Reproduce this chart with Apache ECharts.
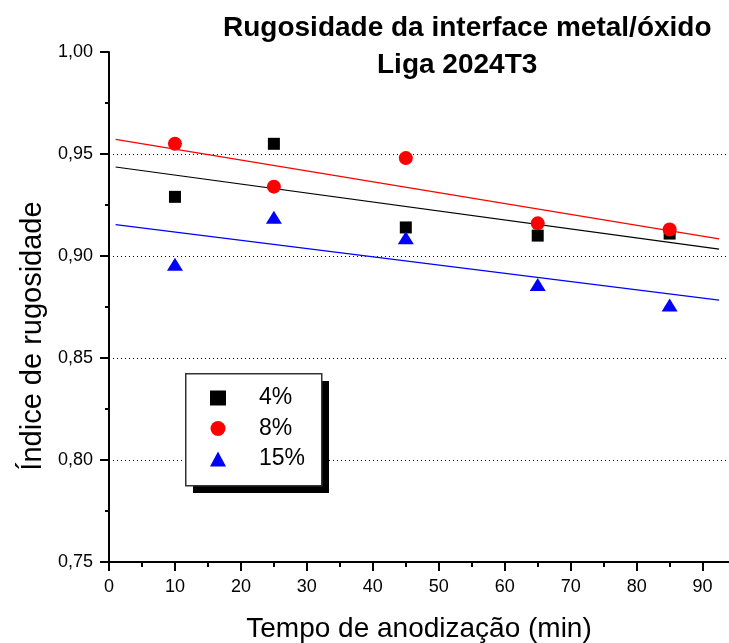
<!DOCTYPE html>
<html>
<head>
<meta charset="utf-8">
<script src="https://cdn.jsdelivr.net/npm/echarts@6/dist/echarts.min.js"></script>
<style>
  html, body { margin: 0; padding: 0; background: #fff; }
  #chart { width: 729px; height: 643px; }
</style>
</head>
<body>
<div id="chart"></div>
<script>
// Anodizing time (min) for every sample
const tempos = [10, 25, 45, 65, 85];
// Roughness index per electrolyte concentration
const rug4 = [0.929, 0.955, 0.914, 0.910, 0.911];
const rug8 = [0.955, 0.934, 0.948, 0.916, 0.913];
const rug15 = [0.896, 0.919, 0.909, 0.886, 0.876];
const series_nomes = ['4%', '8%', '15%'];
// Labelled (major) and unlabelled (minor) ticks of the time axis
const xTicks = [0, 10, 20, 30, 40, 50, 60, 70, 80, 90];
const xMinorTicks = [5, 15, 25, 35, 45, 55, 65, 75, 85];
// Time span covered by the fitted straight lines
const ajusteFaixa = [1, 92.5];

const FONT = 'Liberation Sans, Arial, Helvetica, sans-serif';

// Least-squares straight line through the points of one series
function ajusteLinear(xs, ys) {
  const n = xs.length;
  const mx = xs.reduce((a, b) => a + b, 0) / n;
  const my = ys.reduce((a, b) => a + b, 0) / n;
  let sxy = 0, sxx = 0;
  for (let i = 0; i < n; i++) {
    sxy += (xs[i] - mx) * (ys[i] - my);
    sxx += (xs[i] - mx) * (xs[i] - mx);
  }
  const b = sxy / sxx;
  const a = my - b * mx;
  return ajusteFaixa.map(x => [x, a + b * x]);
}

const pares = ys => tempos.map((t, i) => [t, ys[i]]);

const cores = ['#000000', '#ff0000', '#0000ff'];
const dados = [rug4, rug8, rug15];

const chart = echarts.init(document.getElementById('chart'), null, { renderer: 'canvas' });

const linhas = dados.map((ys, i) => ({
  name: 'ajuste ' + series_nomes[i],
  type: 'line',
  data: ajusteLinear(tempos, ys),
  showSymbol: false,
  symbol: 'none',
  silent: true,
  lineStyle: { color: cores[i], width: 1.2 },
  z: 2
}));

const pontos = [
  { name: series_nomes[0], type: 'scatter', data: pares(rug4), symbol: 'rect', symbolSize: 12,
    itemStyle: { color: cores[0], opacity: 1 }, z: 3 },
  { name: series_nomes[1], type: 'scatter', data: pares(rug8), symbol: 'circle', symbolSize: 14,
    itemStyle: { color: cores[1], opacity: 1 }, z: 4 },
  { name: series_nomes[2], type: 'scatter', data: pares(rug15), symbol: 'triangle', symbolSize: [16, 13],
    itemStyle: { color: cores[2], opacity: 1 }, z: 5 }
];

const X_MAX = 94;

const option = {
  backgroundColor: '#ffffff',
  animation: false,
  textStyle: { fontFamily: FONT },
  title: [
    { text: 'Rugosidade da interface metal/óxido', left: 218, top: 9,
      textStyle: { fontFamily: FONT, fontSize: 28, fontWeight: 'bold', color: '#000' } },
    { text: 'Liga 2024T3', left: 372, top: 46,
      textStyle: { fontFamily: FONT, fontSize: 28, fontWeight: 'bold', color: '#000' } }
  ],
  grid: { left: 109, right: 0, top: 52, bottom: 81, containLabel: false, outerBoundsMode: 'none' },
  xAxis: [
    {
      type: 'value',
      min: 0, max: X_MAX, interval: 10,
      name: 'Tempo de anodização (min)',
      nameLocation: 'middle',
      nameGap: 53,
      nameTextStyle: { fontFamily: FONT, fontSize: 28, color: '#000' },
      axisLine: { show: true, onZero: false, lineStyle: { color: '#000', width: 2 } },
      axisTick: { show: true, inside: false, length: 9, customValues: xTicks,
        lineStyle: { color: '#000', width: 2 } },
      axisLabel: { fontFamily: FONT, fontSize: 18, color: '#000', margin: 16,
        customValues: xTicks },
      splitLine: { show: false }
    },
    {
      // unlabelled half-step ticks on the same baseline
      type: 'value',
      min: 0, max: X_MAX,
      position: 'bottom',
      axisLine: { show: false, onZero: false },
      axisTick: { show: true, inside: false, length: 5, customValues: xMinorTicks,
        lineStyle: { color: '#000', width: 2 } },
      axisLabel: { show: false },
      splitLine: { show: false }
    }
  ],
  yAxis: {
    type: 'value',
    min: 0.75, max: 1.0, interval: 0.05,
    name: 'Índice de rugosidade',
    nameLocation: 'middle',
    nameGap: 62,
    nameTextStyle: { fontFamily: FONT, fontSize: 29, color: '#000', padding: [0, 58, 0, 0] },
    axisLine: { show: true, onZero: false, lineStyle: { color: '#000', width: 2 } },
    axisTick: { show: true, inside: false, length: 9, lineStyle: { color: '#000', width: 2 } },
    minorTick: { show: true, splitNumber: 2, length: 4, lineStyle: { color: '#000', width: 2 } },
    axisLabel: { fontFamily: FONT, fontSize: 18, color: '#000', margin: 16,
      formatter: v => v.toFixed(2).replace('.', ',') },
    splitLine: { show: true, showMinLine: false, showMaxLine: false,
      lineStyle: { color: '#000', width: 1, type: [1, 3] } }
  },
  legend: {
    orient: 'vertical',
    left: 205, top: 378,
    itemWidth: 16, itemHeight: 15,
    itemGap: 0.5,
    selectedMode: false,
    z: 20,
    textStyle: { fontFamily: FONT, fontSize: 23, color: '#000', lineHeight: 30, padding: [0, 0, 0, 28] },
    data: [
      { name: series_nomes[0], icon: 'rect', itemStyle: { color: cores[0], opacity: 1 } },
      { name: series_nomes[1], icon: 'circle', itemStyle: { color: cores[1], opacity: 1 } },
      { name: series_nomes[2], icon: 'triangle', itemStyle: { color: cores[2], opacity: 1 } }
    ]
  },
  graphic: [
    // hard drop shadow behind the legend box
    { type: 'rect', left: 193, top: 381, z: 10,
      shape: { width: 136, height: 112 }, style: { fill: '#000' } },
    { type: 'rect', left: 185, top: 373, z: 11,
      shape: { width: 136, height: 112 }, style: { fill: '#fff', stroke: '#333', lineWidth: 1.5 } }
  ],
  series: linhas.concat(pontos)
};

chart.setOption(option);
</script>
</body>
</html>
